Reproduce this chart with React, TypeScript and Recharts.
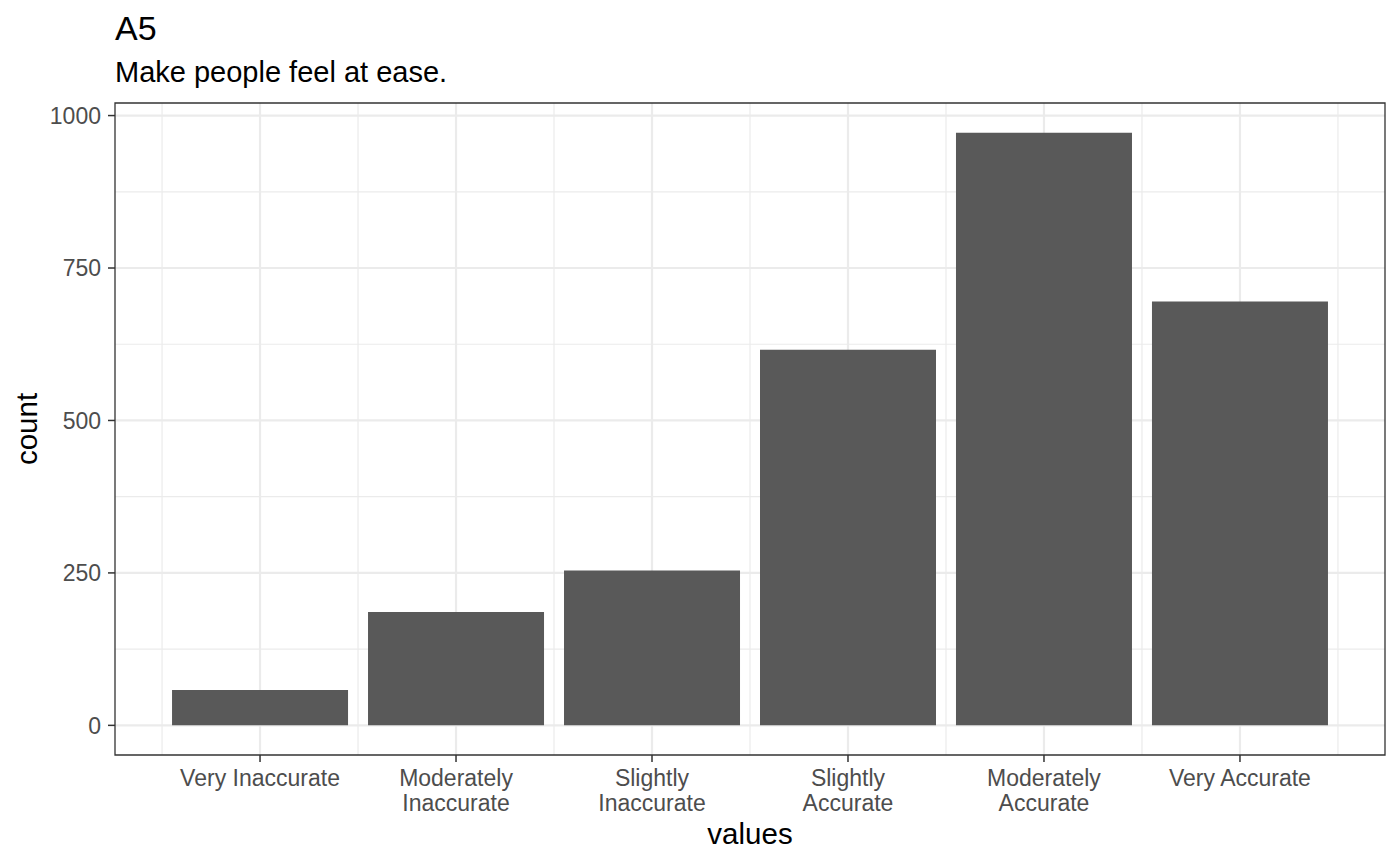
import { BarChart, Bar, XAxis, YAxis, CartesianGrid, ReferenceArea } from "recharts";

const categories = [
  "Very Inaccurate",
  "Moderately\nInaccurate",
  "Slightly\nInaccurate",
  "Slightly\nAccurate",
  "Moderately\nAccurate",
  "Very Accurate",
];
const counts = [58, 186, 254, 616, 972, 695];
const yTicks = [0, 250, 500, 750, 1000];
const yMinor = [125, 375, 625, 875];

const FONT = "'Liberation Sans', Arial, Helvetica, sans-serif";

const data = categories.map((label, i) => ({ pos: i + 1, label, count: counts[i] }));
const xTicks = data.map((d) => d.pos);
// minor grid sits halfway between categories, like ggplot's discrete scale
const xMinor = [0.5, ...xTicks.map((p) => p + 0.5)];

const xDomain = [1 - 0.74, categories.length + 0.74];
const peak = Math.max(...counts);
const yDomain = [-peak * 0.05, peak * 1.05];

function CategoryTick({ x, y, payload }: any) {
  const lines = categories[payload.value - 1].split("\n");
  return (
    <text x={x} y={y} textAnchor="middle" fill="#4D4D4D" fontSize={23} fontFamily={FONT}>
      {lines.map((line, i) => (
        <tspan key={i} x={x} dy={i === 0 ? 24 : 24.7}>
          {line}
        </tspan>
      ))}
    </text>
  );
}

export default function App() {
  return (
    <div style={{ position: "absolute", left: 0, top: 0, width: 1400, height: 865, background: "#fff" }}>
      <svg width={1400} height={865} style={{ position: "absolute", left: 0, top: 0 }} fontFamily={FONT}>
        <text x={115} y={39.5} fontSize={34} fill="#000">
          A5
        </text>
        <text x={115} y={81.5} fontSize={29} fill="#000">
          Make people feel at ease.
        </text>
        <text x={750} y={844} fontSize={29.5} fill="#000" textAnchor="middle">
          values
        </text>
        <text
          x={37}
          y={429}
          fontSize={29.5}
          fill="#000"
          textAnchor="middle"
          transform="rotate(-90 37 429)"
        >
          count
        </text>
      </svg>
      <div style={{ position: "absolute", left: 0, top: 0 }}>
        <BarChart
          width={1400}
          height={865}
          data={data}
          margin={{ top: 103, right: 15, bottom: 0, left: 0 }}
          style={{ fontFamily: FONT }}
        >
          <CartesianGrid
            stroke="#EBEBEB"
            strokeWidth={1.2}
            verticalValues={xMinor}
            horizontalValues={yMinor}
          />
          <CartesianGrid
            stroke="#EBEBEB"
            strokeWidth={2.2}
            verticalValues={xTicks}
            horizontalValues={yTicks}
          />
          <XAxis
            type="number"
            dataKey="pos"
            domain={xDomain}
            ticks={xTicks}
            interval={0}
            allowDataOverflow
            height={110}
            axisLine={false}
            tickLine={{ stroke: "#333333", strokeWidth: 1.5 }}
            tickSize={7}
            tickMargin={0}
            tick={<CategoryTick />}
          />
          <YAxis
            type="number"
            domain={yDomain}
            ticks={yTicks}
            allowDataOverflow
            width={115}
            axisLine={false}
            tickLine={{ stroke: "#333333", strokeWidth: 1.5 }}
            tickSize={7}
            tickMargin={7}
            tick={{ fill: "#4D4D4D", fontSize: 23, fontFamily: FONT }}
          />
          <Bar dataKey="count" fill="#595959" barSize={176} isAnimationActive={false} />
          <ReferenceArea
            x1={xDomain[0]}
            x2={xDomain[1]}
            y1={yDomain[0]}
            y2={yDomain[1]}
            fill="none"
            stroke="#333333"
            strokeWidth={1.3}
            ifOverflow="visible"
          />
        </BarChart>
      </div>
    </div>
  );
}
